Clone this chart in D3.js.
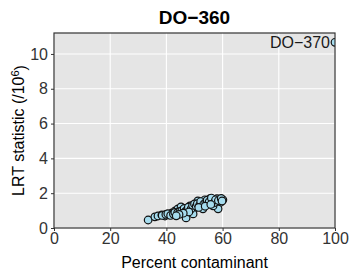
<!DOCTYPE html>
<html>
<head>
<meta charset="utf-8">
<script src="https://cdn.jsdelivr.net/npm/d3@7"></script>
<style>
  body { margin: 0; background: #fff; }
  text { font-family: "Liberation Sans", Arial, sans-serif; }
</style>
</head>
<body>
<div id="chart"></div>
<script>
// cluster of samples: percent contaminant / LRT statistic (x 1e6)
var pctValues = [33.5, 35.9, 37.0, 38.4, 39.5, 40.9, 42.0, 43.1, 44.1, 45.2, 45.9, 47.0, 48.4, 50.2,
    51.2, 52.7, 53.7, 54.8, 55.5, 56.6, 58.0, 59.1, 58.4, 60.1, 56.6, 49.5, 53.0,
    38.5, 39.8, 40.5, 41.5, 42.5, 43.0, 44.0, 44.8, 45.5, 46.3, 46.8, 47.5, 47.8, 48.8, 49.3,
    50.0, 50.6, 51.0, 51.8, 52.2, 53.2, 54.0, 54.5, 55.2, 56.0, 57.0, 57.5, 58.5, 59.5,
    48.0, 46.0, 44.5, 43.5, 51.5, 53.8, 55.8, 59.8];
var lrtValues = [0.46, 0.64, 0.69, 0.75, 0.69, 0.75, 0.87, 0.98, 1.10, 1.21, 1.04, 0.58, 1.27, 1.16,
    1.56, 1.45, 1.62, 1.39, 1.68, 1.56, 1.68, 1.45, 1.10, 1.62, 1.27, 0.81, 1.10,
    0.72, 0.78, 0.82, 0.72, 0.80, 0.90, 0.88, 0.95, 1.00, 1.12, 0.95, 1.05, 1.20, 1.10, 1.30,
    1.38, 1.25, 1.40, 1.30, 1.52, 1.35, 1.48, 1.60, 1.50, 1.72, 1.45, 1.62, 1.58, 1.70,
    0.92, 0.85, 0.78, 0.70, 1.18, 1.25, 1.35, 1.55];
var outlierName = 'DO\u2212370';
var outlierPct = 100, outlierLrt = 10.67;
var xTicks = [0, 20, 40, 60, 80, 100];
var yTicks = [0, 2, 4, 6, 8, 10];

var W = 351, H = 271,
    margin = {top: 33, right: 16, bottom: 43, left: 54};
var width = W - margin.left - margin.right,
    height = H - margin.top - margin.bottom;

var svg = d3.select('#chart').append('svg')
    .attr('width', W).attr('height', H);

svg.append('defs').append('clipPath').attr('id', 'panel')
    .append('rect').attr('width', width).attr('height', height);

var g = svg.append('g')
    .attr('transform', 'translate(' + [margin.left, margin.top] + ')');

var x = d3.scaleLinear().domain([0, 100]).range([0, width]);
var y = d3.scaleLinear().domain([0, outlierLrt * 1.05]).range([height, 0]);

g.append('rect')
    .attr('width', width).attr('height', height)
    .style('fill', '#e5e5e5');

// grid
g.selectAll('.vgrid').data(xTicks).enter().append('line')
    .attr('x1', function(d){ return x(d) }).attr('x2', function(d){ return x(d) })
    .attr('y1', 0).attr('y2', height)
    .style('stroke', '#fff').style('stroke-width', 1.1);
g.selectAll('.hgrid').data(yTicks).enter().append('line')
    .attr('y1', function(d){ return y(d) }).attr('y2', function(d){ return y(d) })
    .attr('x1', 0).attr('x2', width)
    .style('stroke', '#fff').style('stroke-width', 1.1);

var pts = pctValues.map(function(d, i){ return {x: d, y: lrtValues[i]} });
pts.push({x: outlierPct, y: outlierLrt});

g.append('g').attr('clip-path', 'url(#panel)')
    .selectAll('.dot').data(pts).enter().append('circle')
    .attr('cx', function(d){ return x(d.x) })
    .attr('cy', function(d){ return y(d.y) })
    .attr('r', 3.8)
    .style('fill', '#a6dcee')
    .style('stroke', '#111')
    .style('stroke-width', 1.2);

g.append('text')
    .attr('x', x(outlierPct) - 5)
    .attr('y', y(outlierLrt))
    .attr('dy', '0.35em')
    .attr('text-anchor', 'end')
    .style('font-size', '16px')
    .style('fill', '#1a1a1a')
    .text(outlierName);

// axes
var xAxis = d3.axisBottom(x).tickValues(xTicks).tickSize(3).tickPadding(2);
var yAxis = d3.axisLeft(y).tickValues(yTicks).tickSize(3).tickPadding(3);

var gx = g.append('g').attr('transform', 'translate(0,' + height + ')').call(xAxis);
var gy = g.append('g').call(yAxis);
[gx, gy].forEach(function(a){
    a.select('.domain').remove();
    a.selectAll('line').style('stroke', '#333');
    a.selectAll('text').style('font-size', '16px').style('fill', '#333')
        .style('font-family', '"Liberation Sans", Arial, sans-serif');
});

g.append('rect')
    .attr('width', width).attr('height', height)
    .style('fill', 'none').style('stroke', '#333').style('stroke-width', 1.2);

// titles
svg.append('text')
    .attr('x', margin.left + width / 2).attr('y', 24)
    .attr('text-anchor', 'middle')
    .style('font-size', '19px').style('font-weight', 'bold')
    .text('DO\u2212360');

svg.append('text')
    .attr('x', margin.left + width / 2).attr('y', 268)
    .attr('text-anchor', 'middle')
    .style('font-size', '16px')
    .text('Percent contaminant');

var yl = svg.append('text')
    .attr('transform', 'translate(24,' + (margin.top + height / 2) + ') rotate(-90)')
    .attr('text-anchor', 'middle')
    .style('font-size', '16px');
yl.append('tspan').text('LRT statistic (/10');
yl.append('tspan').attr('dy', '-0.45em').style('font-size', '11px').text('6');
yl.append('tspan').attr('dy', '0.45em').text(')');
</script>
</body>
</html>
